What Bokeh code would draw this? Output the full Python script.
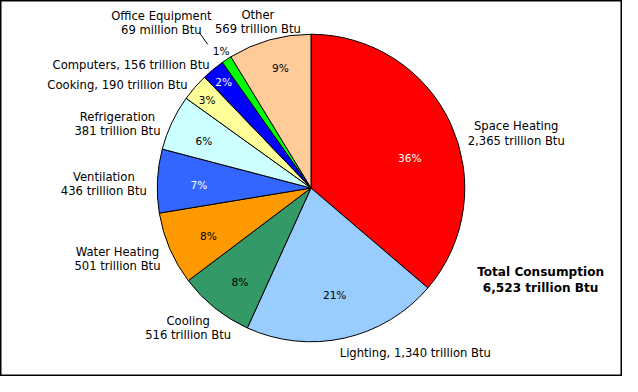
import math
from bokeh.plotting import figure
from bokeh.models import ColumnDataSource, Range1d
from bokeh.embed import file_html
from bokeh.resources import INLINE
from bokeh.core.properties import value

# ---------------- data ----------------
categories = ["Space Heating", "Lighting", "Cooling", "Water Heating", "Ventilation",
              "Refrigeration", "Cooking", "Computers", "Office Equipment", "Other"]
values = [2365, 1340, 516, 501, 436, 381, 190, 156, 69, 569]
units = ["trillion", "trillion", "trillion", "trillion", "trillion",
         "trillion", "trillion", "trillion", "million", "trillion"]
total_title = "Total Consumption"

# ---------------- styles / layout ----------------
colors = ["#FF0000", "#99CCFF", "#339966", "#FF9900", "#3366FF",
          "#CCFFFF", "#FFFF99", "#0000FF", "#00FF00", "#FFCC99"]
pct_colors = ["white", "black", "black", "black", "white",
              "black", "black", "white", "black", "black"]
single_line = [False, True, False, False, False, False, True, True, False, False]
# percent label placement: radius and angle tweak (degrees) from slice mid-angle
pct_radius = [107, 113, 122, 117, 116, 121, 141, 142, 169, 128]
pct_dangle = [-7.6, 0, 1.7, 1.7, 0.9, 1.5, 0.5, 0, 0, -1.4]
# category label anchors (design pixels: centre x, first-line centre y)
label_pos = [(529, 131), (425.5, 367), (192.5, 334), (120, 262), (106, 184),
             (120, 121), (120, 88), (134, 67), (165, 16), (264, 15)]
total_pos = (554, 283)
LINE = 15

DW, DH = 638, 392          # design size
W, H = 622, 376            # figure size
SX, SY = W / DW, H / DH
S = math.sqrt(SX * SY)


def px(X, Y):
    return X * SX, H - Y * SY


cx, cy = px(318.5, 195.5)
R = 159 * S
FONT = "DejaVu Sans"


def fs(n):
    return f"{n * S:.1f}px"


total = sum(values)
starts, ends, mids = [], [], []
cum = 0.0
for v in values:
    a0 = math.pi / 2 - 2 * math.pi * cum / total
    cum += v
    a1 = math.pi / 2 - 2 * math.pi * cum / total
    starts.append(a0)
    ends.append(a1)
    mids.append((a0 + a1) / 2)

p = figure(width=W, height=H, output_backend="svg", toolbar_location=None,
           x_range=Range1d(0, W), y_range=Range1d(0, H), min_border=0,
           background_fill_color="white", border_fill_color="white")
p.axis.visible = False
p.grid.visible = False
p.outline_line_color = "black"
p.outline_line_width = 2

src = ColumnDataSource(dict(x=[cx] * len(values), y=[cy] * len(values),
                            start=starts, end=ends, color=colors))
p.wedge(x="x", y="y", radius=R, start_angle="start", end_angle="end",
        direction="clock", fill_color="color", line_color="black",
        line_width=1, source=src)

# percent labels
px_l, py_l, pt, pc = [], [], [], []
for i, v in enumerate(values):
    ang = mids[i] + math.radians(pct_dangle[i])
    px_l.append(cx + pct_radius[i] * S * math.cos(ang))
    py_l.append(cy + pct_radius[i] * S * math.sin(ang))
    pt.append(f"{round(100 * v / total)}%")
    pc.append(pct_colors[i])
p.text(x=px_l, y=py_l, text=pt, text_color=pc, text_font=value(FONT),
       text_font_size=fs(11), text_align="center", text_baseline="middle")

# category labels
lx, ly, lt = [], [], []
for i, cat in enumerate(categories):
    amount = f"{values[i]:,} {units[i]} Btu"
    X, Y = label_pos[i]
    lines = [f"{cat}, {amount}"] if single_line[i] else [cat, amount]
    for k, t in enumerate(lines):
        x, y = px(X, Y + k * LINE)
        lx.append(x)
        ly.append(y)
        lt.append(t)
p.text(x=lx, y=ly, text=lt, text_color="black", text_font=value(FONT),
       text_font_size=fs(12), text_align="center", text_baseline="middle")

# leader line for Office Equipment
oi = categories.index("Office Equipment")
la = mids[oi] + math.radians(2.4)
p.segment(x0=[cx + 183 * S * math.cos(la)], y0=[cy + 183 * S * math.sin(la)],
          x1=[cx + 197 * S * math.cos(la)], y1=[cy + 197 * S * math.sin(la)],
          line_color="black", line_width=1)

# total
tx, ty = [], []
for k in range(2):
    x, y = px(total_pos[0], total_pos[1] + k * 17)
    tx.append(x)
    ty.append(y)
p.text(x=tx, y=ty, text=[total_title, f"{total:,} trillion Btu"],
       text_color="black", text_font=value(FONT), text_font_style="bold",
       text_font_size=fs(12.5), text_align="center", text_baseline="middle")

open("out.html", "w").write(file_html(p, INLINE))
